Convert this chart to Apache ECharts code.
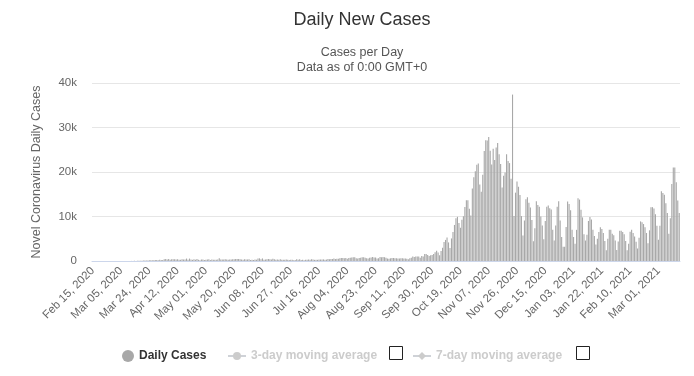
<!DOCTYPE html>
<html>
<head>
<meta charset="utf-8">
<script src="https://cdn.jsdelivr.net/npm/echarts@6/dist/echarts.min.js"></script>
<style>
  html, body { margin: 0; padding: 0; background: #fff; }
  #chart { width: 694px; height: 376px; }
</style>
</head>
<body>
<div id="chart"></div>
<script>
// daily new cases, one array per month
const feb2020 = [0, 0, 0, 0, 0, 0, 0, 0, 0, 0, 0, 0, 0, 0, 0] // from Feb 15
const mar2020 = [0, 0, 0, 1, 0, 4, 0, 6, 6, 5, 9, 20, 17, 36, 21, 52, 61, 49, 70, 111, 111, 98, 115, 152, 150, 170, 168, 249, 224, 193, 256]
const apr2020 = [243, 244, 392, 475, 311, 435, 256, 374, 370, 380, 318, 401, 260, 268, 380, 336, 363, 545, 263, 545, 313, 263, 381, 285, 460, 276, 184, 336, 342, 246]
const may2020 = [262, 316, 374, 241, 346, 307, 298, 300, 330, 595, 312, 317, 315, 380, 334, 276, 322, 338, 416, 379, 476, 446, 443, 395, 337, 297, 415, 313, 358, 395, 222]
const jun2020 = [292, 230, 361, 292, 576, 599, 375, 575, 282, 359, 371, 440, 407, 314, 506, 407, 302, 317, 306, 371, 300, 301, 302, 361, 307, 234, 261, 261, 191, 223]
const jul2020 = [371, 274, 374, 243, 282, 193, 262, 299, 358, 299, 418, 358, 262, 253, 267, 328, 334, 358, 362, 288, 315, 441, 401, 443, 468, 584, 447, 515, 512, 615, 658]
const aug2020 = [657, 624, 680, 512, 680, 726, 809, 843, 832, 599, 548, 674, 735, 832, 829, 730, 599, 547, 729, 802, 903, 811, 767, 548, 619, 887, 834, 900, 850, 744, 555]
const sep2020 = [525, 598, 657, 670, 625, 602, 551, 549, 600, 591, 555, 554, 506, 379, 600, 757, 1002, 921, 1001, 1009, 1002, 746, 1136, 1002, 1587, 1584, 1350, 1136, 1306, 1326]
const oct2020 = [1552, 1967, 2292, 1934, 1306, 2236, 3003, 4280, 4739, 5300, 4178, 2944, 5068, 6526, 8099, 9622, 9927, 8536, 7482, 9291, 10040, 12107, 13632, 13628, 11742, 10241, 16300, 18820, 20156, 21629, 21897]
const nov2020 = [17171, 15578, 19364, 24692, 27143, 27086, 27875, 24785, 21713, 25221, 22683, 25484, 26500, 24000, 21800, 16500, 19152, 19883, 23975, 22464, 22000, 18467, 37400, 10139, 15362, 17856, 16687, 14838, 10100, 5733]
const dec2020 = [9105, 13855, 14325, 13100, 12000, 9200, 4423, 7341, 13400, 12600, 12200, 10000, 8000, 4896, 8977, 12168, 12456, 11855, 11551, 7000, 4633, 7986, 12199, 13432, 9100, 5400, 3200, 3211, 7620, 13397, 12800]
const jan2021 = [11400, 7000, 5400, 3900, 7000, 14100, 13800, 11500, 9800, 6000, 4600, 5900, 9000, 9900, 9300, 7000, 5600, 3700, 5000, 6500, 7600, 7200, 6300, 4500, 2400, 5000, 7000, 7000, 6100, 5800, 4600]
const feb2021 = [2500, 4400, 6800, 6800, 6500, 6000, 4500, 2400, 3900, 6600, 7000, 6300, 5500, 4300, 2800, 5200, 8900, 8700, 8300, 7600, 6300, 4000, 6900, 12100, 12100, 11800, 10500, 7900]
const mar2021 = [4800, 7900, 15700, 15300, 14900, 13000, 10800, 6100, 9600, 17300, 21000, 21000, 17700, 13600, 10800] // to Mar 15

const cases = [].concat(feb2020, mar2020, apr2020, may2020, jun2020, jul2020, aug2020,
  sep2020, oct2020, nov2020, dec2020, jan2021, feb2021, mar2021)

// one category per day starting Feb 15, 2020
const monthNames = ['Jan', 'Feb', 'Mar', 'Apr', 'May', 'Jun', 'Jul', 'Aug', 'Sep', 'Oct', 'Nov', 'Dec']
const firstDay = Date.UTC(2020, 1, 15)
const dates = cases.map((v, i) => {
  const d = new Date(firstDay + i * 86400000)
  return monthNames[d.getUTCMonth()] + ' ' + String(d.getUTCDate()).padStart(2, '0') + ', ' + d.getUTCFullYear()
})

const legendNames = ['Daily Cases', '3-day moving average', '7-day moving average']

const chart = echarts.init(document.getElementById('chart'))
chart.setOption({
  animation: false,
  textStyle: { fontFamily: '"Liberation Sans", Arial, sans-serif' },
  title: [
    {
      text: 'Daily New Cases',
      left: 357,
      textAlign: 'center',
      top: 6,
      textStyle: { fontSize: 18, fontWeight: 'normal', color: '#333' }
    },
    {
      text: 'Cases per Day\nData as of 0:00 GMT+0',
      left: 357,
      textAlign: 'center',
      top: 40,
      textStyle: { fontSize: 12.5, fontWeight: 'normal', color: '#555', lineHeight: 15 }
    }
  ],
  legend: [
    { // 图例：日新增
      data: [legendNames[0]],
      left: 117,
      top: 345,
      icon: 'circle',
      itemWidth: 12,
      itemHeight: 12,
      itemGap: 0,
      textStyle: { fontSize: 12, fontWeight: 'bold', color: '#333' }
    },
    {
      data: [legendNames[1]],
      left: 222,
      top: 345,
      itemWidth: 18,
      itemHeight: 10,
      itemTextGap: 3,
      inactiveColor: '#ccc',
      selected: { '3-day moving average': false },
      textStyle: { fontSize: 12, fontWeight: 'bold', color: '#333' }
    },
    {
      data: [legendNames[2]],
      left: 407,
      top: 345,
      itemWidth: 18,
      itemHeight: 10,
      itemTextGap: 3,
      inactiveColor: '#ccc',
      selected: { '7-day moving average': false },
      textStyle: { fontSize: 12, fontWeight: 'bold', color: '#333' }
    }
  ],
  graphic: [ // checkboxes next to the moving averages
    { type: 'rect', left: 389, top: 346, shape: { width: 13, height: 13 }, style: { fill: '#fff', stroke: '#222', lineWidth: 1 } },
    { type: 'rect', left: 576, top: 346, shape: { width: 13, height: 13 }, style: { fill: '#fff', stroke: '#222', lineWidth: 1 } }
  ],
  grid: { left: 92, right: 14, top: 83, bottom: 115 },
  xAxis: {
    type: 'category',
    data: dates,
    boundaryGap: true,
    axisLine: { lineStyle: { color: '#ccd6eb' } },
    axisTick: { show: false },
    axisLabel: { interval: 18, rotate: 45, color: '#666', fontSize: 11.5, margin: 8 }
  },
  yAxis: {
    type: 'value',
    min: 0,
    max: 40000,
    interval: 10000,
    name: 'Novel Coronavirus Daily Cases',
    nameLocation: 'middle',
    nameGap: 49,
    nameTextStyle: { color: '#666', fontSize: 12.5 },
    axisLabel: {
      color: '#666',
      fontSize: 11.5,
      margin: 15,
      formatter: v => (v === 0 ? '0' : v / 1000 + 'k')
    },
    splitLine: { lineStyle: { color: '#e6e6e6' } }
  },
  series: [
    {
      name: legendNames[0],
      type: 'bar',
      data: cases,
      barCategoryGap: '25%',
      itemStyle: { color: '#a8a8a8' }
    },
    { name: legendNames[1], type: 'line', symbol: 'circle', data: [], itemStyle: { color: '#999' } },
    { name: legendNames[2], type: 'line', symbol: 'diamond', data: [], itemStyle: { color: '#999' } }
  ]
})
</script>
</body>
</html>
